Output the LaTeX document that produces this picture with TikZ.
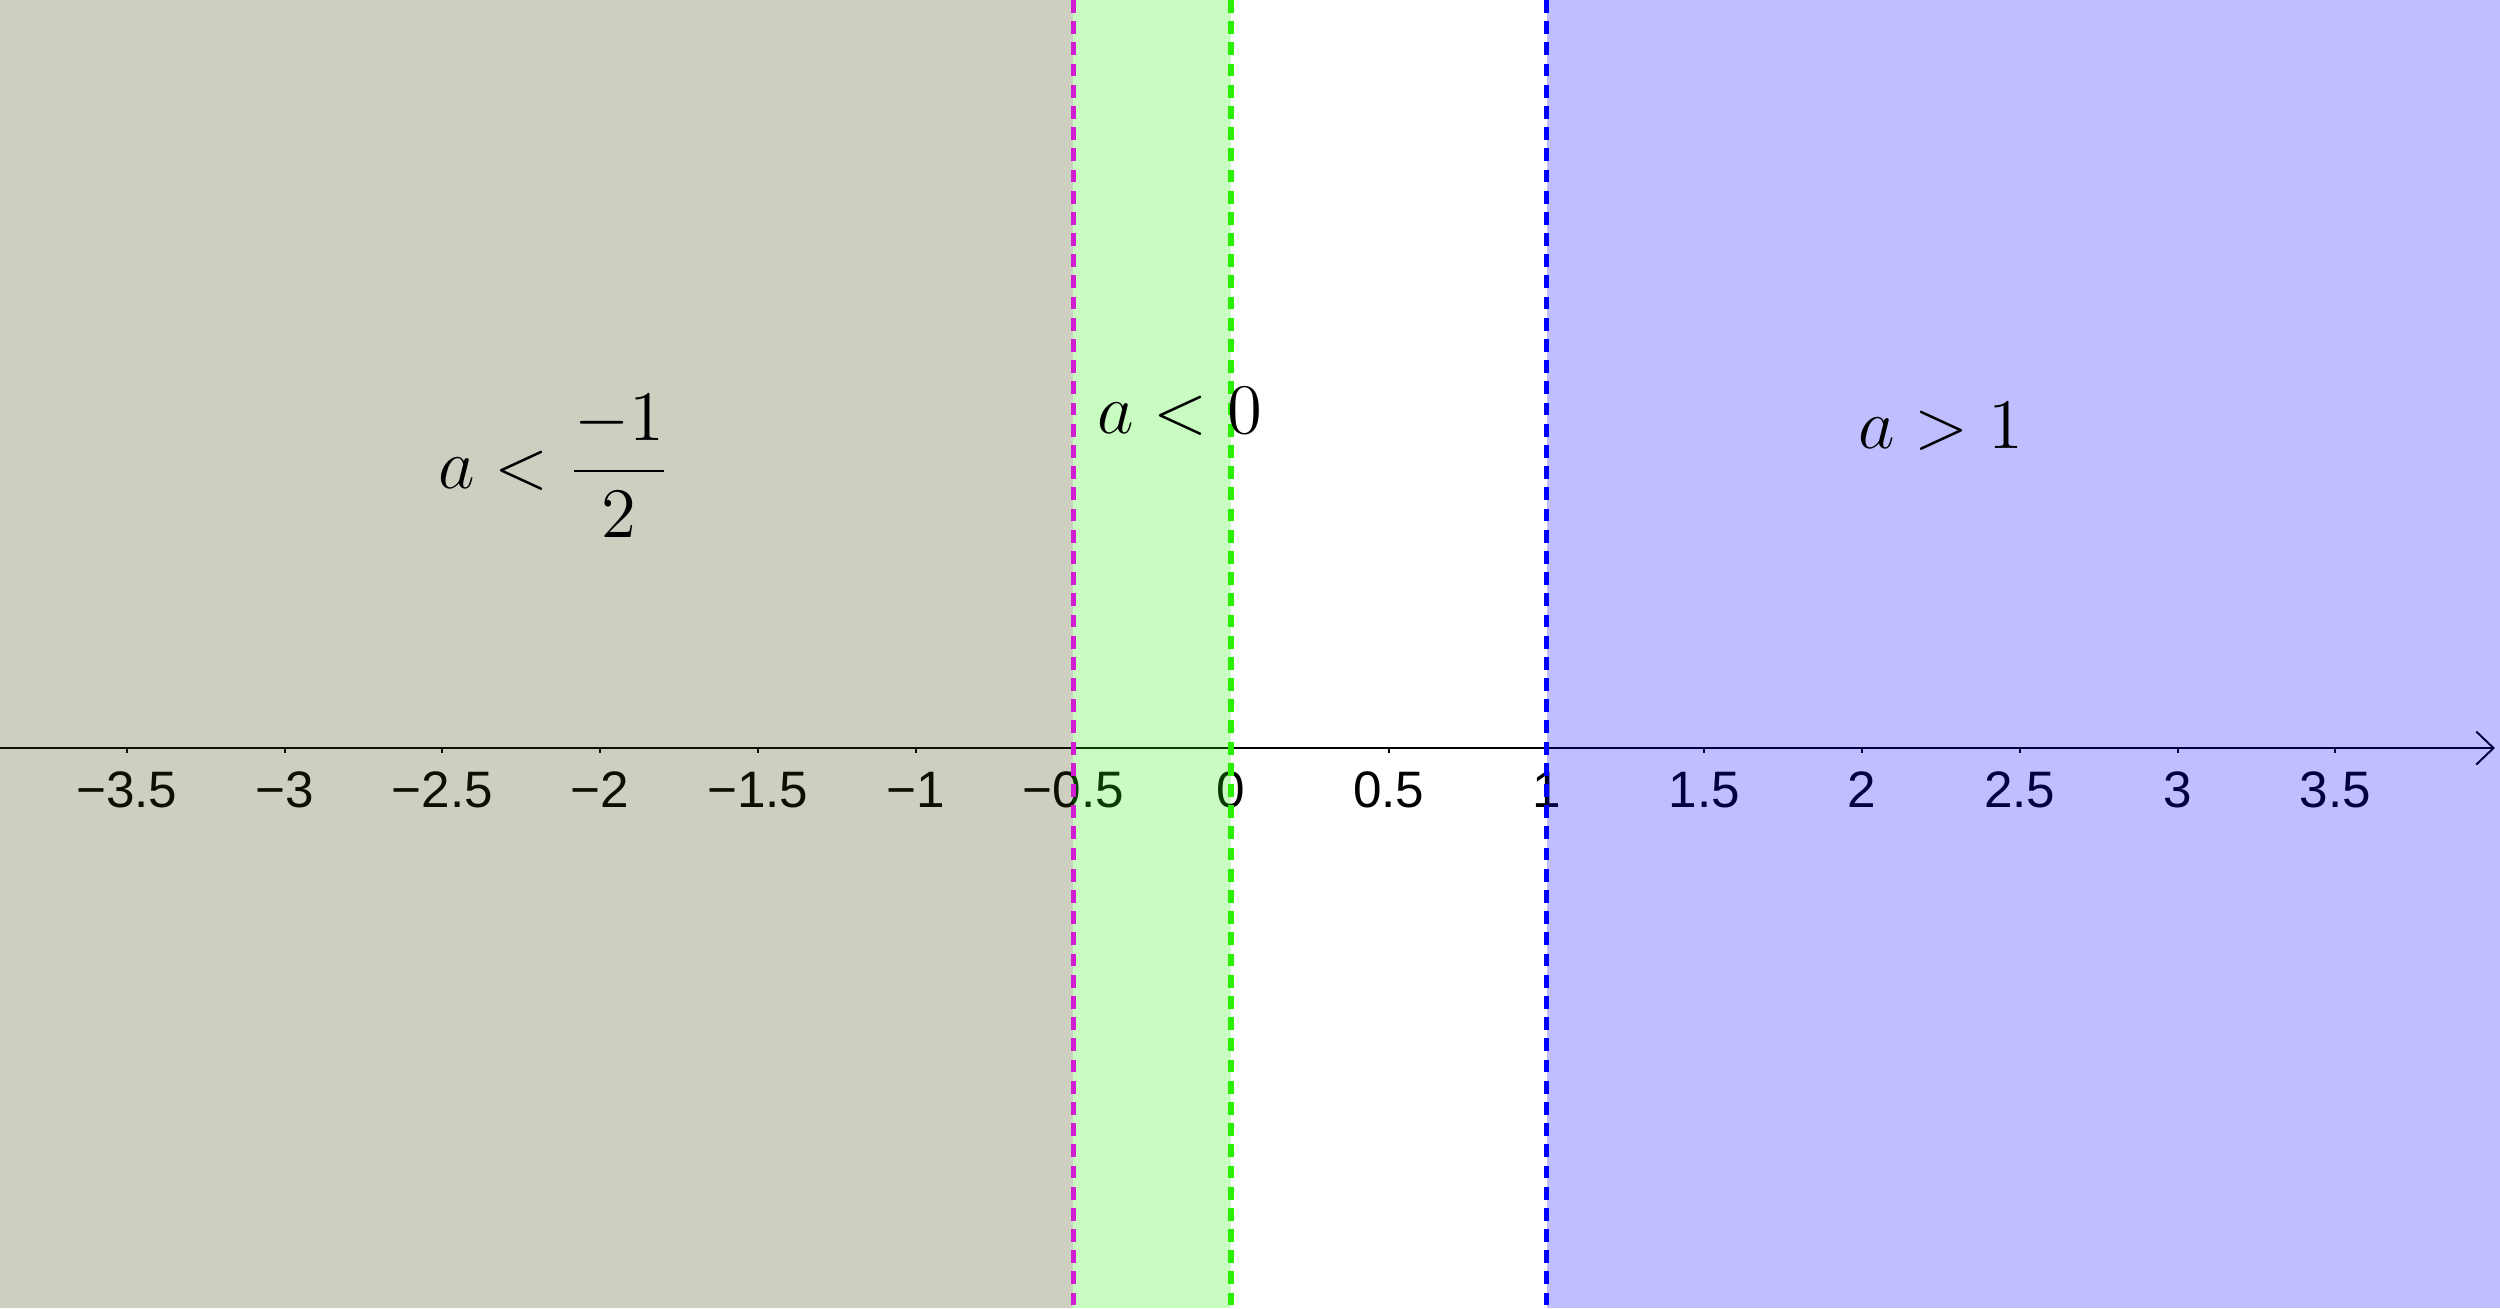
\documentclass[tikz,border=0pt]{standalone}
\usepackage{fontspec}
\usepackage{tikz}
\usetikzlibrary{arrows.meta}
\newfontfamily\ticksfont{Liberation Sans}
\definecolor{leftshade}{RGB}{55,63,7}
\definecolor{midshade}{RGB}{35,243,3}
\definecolor{rightshade}{RGB}{0,0,255}
\definecolor{halfline}{RGB}{210,30,210}
\definecolor{zeroline}{RGB}{40,240,0}
\definecolor{oneline}{RGB}{0,0,255}
\begin{document}
\begin{tikzpicture}[x=2.25cm, y=2.25cm,
  axisline/.style={line width=0.4pt, black, -{Straight Barb[length=3.5pt, width=6.7pt]}},
  tickmark/.style={line width=0.4pt, black},
  ticklab/.style={anchor=base, inner sep=0pt, font=\ticksfont\fontsize{10.4}{12}\selectfont},
  region/.style={draw=none, fill opacity=0.25},
  bound/.style={line width=1.1pt, dash pattern=on 2.6pt off 1.7pt},
  mathlab/.style={inner sep=0pt, font=\fontsize{15}{18}\selectfont}
]
\useasboundingbox (-3.902,-1.775) rectangle (4.022,2.371);
\coordinate (axl) at (-3.902,0);
\coordinate (axr) at (4.006,0);
\draw[axisline] (axl) -- (axr);
\foreach \x/\lab [count=\i] in {-3.5/−3.5,-3/−3,-2.5/−2.5,-2/−2,-1.5/−1.5,-1/−1,-0.5/−0.5,0/0,0.5/0.5,1/1,1.5/1.5,2/2,2.5/2.5,3/3,3.5/3.5}{
  \coordinate (tk\i) at (\x,0);
  \draw[tickmark] (tk\i) -- ++(0,-1pt);
  \node[ticklab] (lab\i) at (\x,-0.187) {\lab};
}
\fill[region, leftshade] (-3.902,-1.775) rectangle (-0.5,2.371);
\fill[region, midshade] (-0.5,-1.775) rectangle (0,2.371);
\fill[region, rightshade] (1,-1.775) rectangle (4.022,2.371);
\coordinate (htop) at (-0.5,2.371);
\coordinate (hbot) at (-0.5,-1.775);
\coordinate (ztop) at (0,2.371);
\coordinate (zbot) at (0,-1.775);
\coordinate (otop) at (1,2.371);
\coordinate (obot) at (1,-1.775);
\draw[bound, halfline] (htop) -- (hbot);
\draw[bound, zeroline] (ztop) -- (zbot);
\draw[bound, oneline] (otop) -- (obot);
\node[mathlab] (lefttext) at (-2.146,0.894) {$\displaystyle a<\frac{-1}{2}$};
\node[mathlab, anchor=base] (midtext) at (-0.162,0.998) {$a<0$};
\node[mathlab, anchor=base] (righttext) at (2.25,0.948) {$a>1$};
\end{tikzpicture}
\end{document}
